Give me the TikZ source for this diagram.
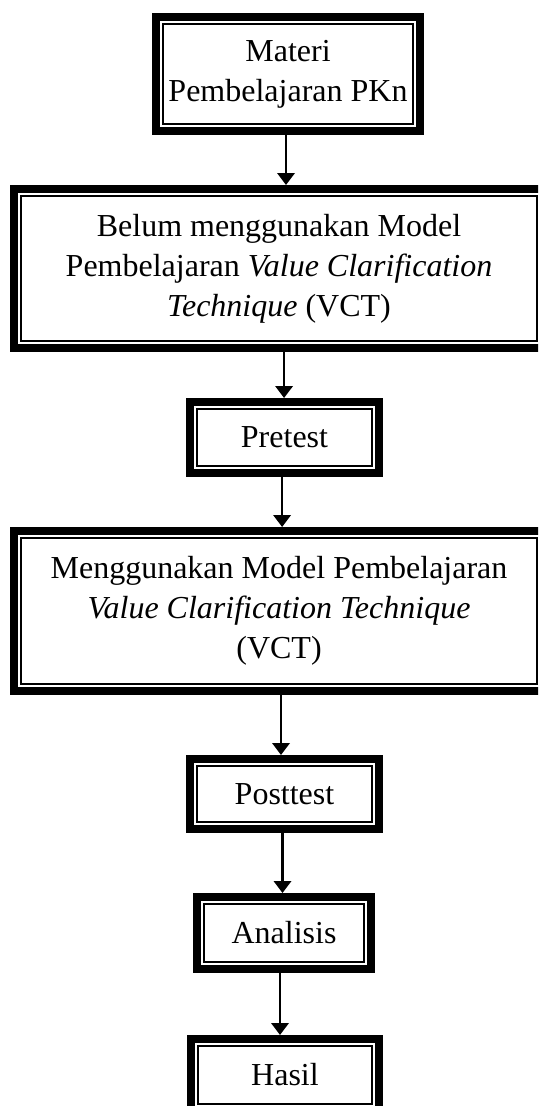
\documentclass[tikz,border=0pt]{standalone}
\usepackage{fontspec}
\setmainfont{Liberation Serif}
\usetikzlibrary{arrows.meta,calc}
\newcommand{\pxu}{0.375pt}
\begin{document}
\begin{tikzpicture}[x=0.375pt,y=-0.375pt,
  tbox/.style={draw=black, line width=3pt, outer sep=0pt, inner sep=0pt, align=center, font=\fontsize{12}{15}\selectfont},
  thinrule/.style={draw=black, line width=0.75pt},
  arr/.style={-{Triangle[length=4.5pt,width=6.5pt]}, line width=0.95pt, shorten >=1.5pt}]
\useasboundingbox (0,0) rectangle (538,1106);
\fill[white] (0,0) rectangle (538,1106);
\clip (0,0) rectangle (538,1106);
\node[tbox, minimum width=264*\pxu, minimum height=114*\pxu] (m1) at (288,74) {Materi\\Pembelajaran PKn};
\node[tbox, minimum width=530*\pxu, minimum height=159*\pxu] (m2) at (279,268.5) {Belum menggunakan Model\\Pembelajaran \textit{Value Clarification}\\\textit{Technique} (VCT)};
\node[tbox, minimum width=189*\pxu, minimum height=71*\pxu] (pre) at (284.5,437.5) {Pretest};
\node[tbox, minimum width=530*\pxu, minimum height=160*\pxu] (m4) at (279,611) {Menggunakan Model Pembelajaran\\\textit{Value Clarification Technique}\\(VCT)};
\node[tbox, minimum width=189*\pxu, minimum height=70*\pxu] (post) at (284.5,794) {Posttest};
\node[tbox, minimum width=174*\pxu, minimum height=72*\pxu] (ana) at (284,933) {Analisis};
\node[tbox, minimum width=188*\pxu, minimum height=72*\pxu] (has) at (285,1075) {Hasil};
\foreach \n in {m1,m2,pre,m4,post,ana,has}
  \draw[thinrule] ($(\n.north west)+(7,7)$) rectangle ($(\n.south east)+(-7,-7)$);
\draw[arr] ([xshift=-0.75pt]m1.south) -- ([xshift=-0.75pt]m1.south |- m2.north);
\draw[arr] ([xshift=1.9pt]m2.south) -- ([xshift=1.9pt]m2.south |- pre.north);
\draw[arr] ([xshift=-0.9pt]pre.south) -- ([xshift=-0.9pt]pre.south |- m4.north);
\draw[arr] ([xshift=0.75pt]m4.south) -- ([xshift=0.75pt]m4.south |- post.north);
\draw[arr] ([xshift=-0.75pt]post.south) -- ([xshift=-0.75pt]post.south |- ana.north);
\draw[arr] ([xshift=-1.5pt]ana.south) -- ([xshift=-1.5pt]ana.south |- has.north);
\end{tikzpicture}
\end{document}
